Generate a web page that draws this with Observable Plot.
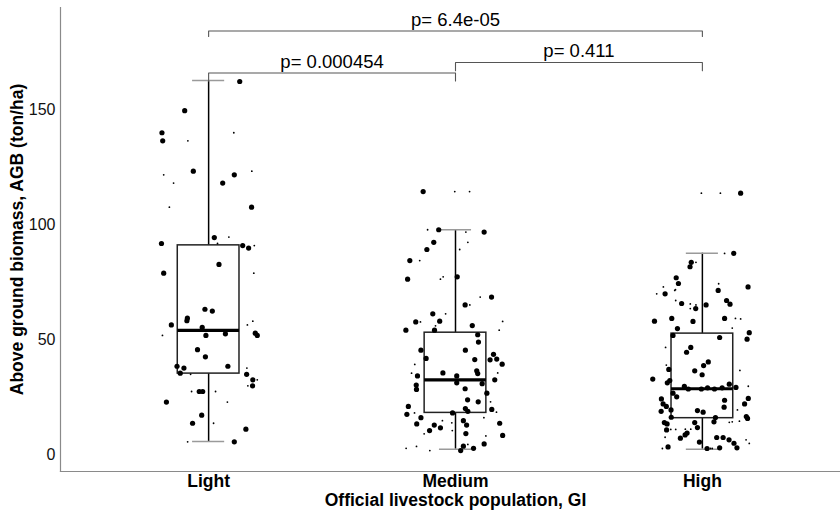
<!DOCTYPE html>
<html>
<head>
<meta charset="utf-8">
<script src="https://cdn.jsdelivr.net/npm/d3@7"></script>
<script src="https://cdn.jsdelivr.net/npm/@observablehq/plot@0.6"></script>
<style>
  html, body { margin: 0; padding: 0; background: #ffffff; }
  #chart { width: 840px; height: 510px; }
</style>
</head>
<body>
<div id="chart"></div>
<script>
// ---- categories & tick labels ----
const categories = ["Light", "Medium", "High"];
const yTicks = [0, 50, 100, 150];
const yTitle = "Above ground biomass, AGB (ton/ha)";
const xTitle = "Official livestock population, GI";

// ---- box statistics ----
const whiskerLow  = [5.6, 2.3, 2.3];
const q1          = [35.2, 18.1, 15.8];
const medians     = [54.0, 32.5, 28.6];
const q3          = [91.0, 53.0, 52.6];
const whiskerHigh = [162.7, 97.8, 87.6];

// ---- jittered observations: [value, jitter (category units)] ----
const lightBig = [
  [162.3,.126],[149.6,-.097],[140.0,-.189],[136.5,-.186],[123.3,-.062],[121.7,.104],[118.1,.057],[107.6,.174],
  [94.4,.023],[91.8,-.191],[90.9,.138],[89.8,.162],[78.9,-.182],[82.7,.042],[63.2,-.015],[62.4,.015],
  [59.3,-.086],[58.2,-.088],[56.4,-.151],[55.3,-.026],[52.8,.189],[51.8,.197],[51.8,-.011],[52.5,.068],
  [45.6,-.045],[42.5,-.013],[38.4,.078],[38.4,-.128],[37.6,-.100],[35.4,-.115],[34.9,.154],[32.5,.179],
  [29.9,.178],[27.4,-.038],[27.4,-.024],[22.8,-.171],[17.1,-.028],[13.6,-.065],[11.0,.151],[5.5,.104]
];
const lightSmall = [
  [140.0,.102],[136.5,-.084],[121.7,-.182],[123.3,.175],[118.1,-.142],[107.6,-.159],[94.6,.082],[91.8,.036],
  [90.9,.185],[78.9,.183],[58.0,.179],[56.4,.157],[51.8,-.187],[37.6,.155],[34.9,-.073],[32.5,.197],
  [29.9,.159],[27.4,-.069],[27.4,.028],[22.8,.076],[13.6,.020],[5.5,-.085]
];
const mediumBig = [
  [114.4,-.131],[97.8,-.068],[96.8,.116],[92.3,-.088],[89.2,-.116],[84.4,-.185],[76.3,-.194],[77.3,.007],
  [68.5,.146],[65.1,.039],[61.2,-.092],[57.7,-.161],[58.0,-.064],[54.1,-.201],[54.1,-.085],[56.1,.068],
  [52.1,.090],[48.9,.093],[45.4,-.140],[45.4,.040],[43.6,.154],[41.5,.167],[41.2,.140],[39.3,.189],
  [41.8,-.119],[41.3,.078],[36.4,.086],[35.2,.090],[35.5,-.051],[34.2,-.154],[34.2,.005],[32.5,.159],
  [30.8,.108],[31.2,.005],[30.2,-.159],[28.3,-.158],[28.6,.039],[26.7,.127],[23.8,.049],[22.9,.092],
  [20.9,-.191],[20.0,.040],[18.8,.050],[19.6,.147],[17.5,-.197],[18.1,-.012],[16.0,-.140],[14.7,.032],
  [12.8,.045],[13.3,-.157],[12.8,-.086],[11.6,-.061],[10.4,-.105],[13.6,.179],[9.1,.042],[8.3,.191],
  [4.6,.116],[2.7,.073],[3.6,.032],[1.7,.021]
];
const mediumSmall = [
  [114.4,-.003],[114.4,.057],[97.8,-.113],[96.8,.042],[92.3,.050],[89.2,.017],[84.4,-.145],[76.3,-.061],
  [77.3,-.050],[68.5,.100],[65.1,.058],[61.2,-.040],[57.7,-.142],[57.9,.191],[56.0,-.081],[54.1,.177],
  [39.2,-.165],[35.4,-.178],[35.5,.171],[22.9,.142],[18.1,-.166],[18.4,.166],[16.0,.115],[14.7,-.053],
  [13.8,-.015],[9.0,-.127],[8.1,.123],[10.4,-.013],[2.7,-.200],[3.5,-.158],[1.7,-.104],[4.4,.050]
];
const highBig = [
  [113.7,.155],[87.5,.127],[83.6,-.045],[81.7,-.050],[76.9,-.106],[74.4,-.097],[72.9,.185],[71.4,.064],
  [69.9,-.151],[67.0,.098],[65.4,.112],[65.7,-.084],[65.1,.015],[63.5,-.027],[59.2,-.124],[59.2,.090],
  [58.0,-.194],[57.9,-.038],[54.8,-.101],[53.0,.190],[50.2,.181],[51.8,-.119],[50.9,.070],[46.6,-.047],
  [44.5,-.064],[40.3,.024],[38.7,.005],[36.4,-.031],[34.7,-.001],[37.0,-.136],[32.8,-.201],[32.2,-.132],
  [31.2,-.142],[29.6,-.073],[30.6,.109],[29.2,.136],[28.5,-.057],[28.5,-.004],[29.0,.021],[29.0,.080],
  [28.5,.049],[26.7,-.119],[25.1,-.104],[23.6,.090],[24.2,-.166],[24.4,.186],[22.0,-.159],[20.9,-.146],
  [22.0,.171],[20.6,.088],[18.8,-.167],[19.4,-.127],[19.1,-.020],[18.4,.003],[16.2,-.126],[16.5,.178],
  [15.7,.183],[16.1,.053],[14.2,.047],[13.9,-.031],[13.9,-.154],[13.3,-.143],[11.7,-.020],[10.7,-.145],
  [9.3,-.062],[8.5,-.070],[7.1,-.089],[7.4,.058],[7.4,.084],[6.4,.108],[4.9,.128],[2.9,.140],
  [5.4,-.012],[2.6,.019],[2.9,.070],[3.3,-.139]
];
const highSmall = [
  [113.7,-.004],[113.7,.073],[87.5,.090],[83.6,-.026],[72.9,-.158],[74.3,.066],[71.4,-.112],[69.9,-.185],
  [67.0,-.108],[65.5,-.049],[65.1,-.026],[63.5,-.049],[59.2,.134],[59.0,.155],[58.6,-.040],[71.7,-.109],
  [55.0,.121],[36.6,.152],[46.6,-.149],[38.9,-.146],[29.7,.186],[19.4,.142],[14.5,.150],[14.0,.109],
  [14.2,.121],[7.5,-.151],[6.4,.177],[4.8,.190],[2.6,-.162],[2.6,.033],[2.6,.040],[10.9,-.128],
  [10.9,-.108],[11.0,-.069],[11.0,-.047]
];

// ---- pairwise comparisons (brackets) ----
const comparisons = [
  {from: 1, to: 2, level: 166.0, tip: 162.5, label: "p= 0.000454"},
  {from: 2, to: 3, level: 170.6, tip: 167.0, label: "p= 0.411"},
  {from: 1, to: 3, level: 184.3, tip: 181.9, label: "p= 6.4e-05"}
];

// ---- build tables ----
const boxes = categories.map((c, i) => ({
  pos: i + 1, lo: whiskerLow[i], q1: q1[i], med: medians[i], q3: q3[i], hi: whiskerHigh[i]
}));
const pts = (arr, cat) => arr.map(([v, j]) => ({x: categories.indexOf(cat) + 1 + j, y: v}));
const bigPts = [...pts(lightBig, "Light"), ...pts(mediumBig, "Medium"), ...pts(highBig, "High")];
const smallPts = [...pts(lightSmall, "Light"), ...pts(mediumSmall, "Medium"), ...pts(highSmall, "High")];
const bracketLines = comparisons.flatMap((c, k) => [
  {k, x: c.from, y: c.tip}, {k, x: c.from, y: c.level}, {k, x: c.to, y: c.level}, {k, x: c.to, y: c.tip}
]);
const bracketLabels = comparisons.map(c => ({x: (c.from + c.to) / 2, y: c.level, label: c.label}));

const boxHalf = 0.125, capHalf = 0.065;
const FONT = "Liberation Sans, Arial, Helvetica, sans-serif";

const chart = Plot.plot({
  width: 840,
  height: 510,
  marginLeft: 60,
  marginRight: -10,
  marginTop: 7,
  marginBottom: 39,
  style: {fontFamily: FONT, background: "#ffffff", color: "#000000"},
  x: {domain: [0.4, 3.6], range: [60, 850]},
  y: {domain: [-7.4, 194.5], range: [471, 7]},
  marks: [
    Plot.frame({anchor: "left", stroke: "#8a8a8a", strokeWidth: 1.2}),
    Plot.frame({anchor: "bottom", stroke: "#8a8a8a", strokeWidth: 1.2}),
    Plot.axisY({ticks: yTicks, tickSize: 0, tickPadding: 5, fontSize: 16, fill: "#111", label: null}),
    Plot.axisX({ticks: [1, 2, 3], tickFormat: d => categories[d - 1], tickSize: 0, tickPadding: 3,
      fontSize: 17.5, fontWeight: "bold", fill: "#000", label: null}),
    Plot.text([yTitle], {frameAnchor: "left", rotate: -90, dx: -43, fontSize: 17.5, fontWeight: "bold",
      textAnchor: "middle", lineAnchor: "middle", fill: "#000"}),
    Plot.text([xTitle], {frameAnchor: "bottom", dy: 29, fontSize: 17.5, fontWeight: "bold",
      textAnchor: "middle", lineAnchor: "middle", fill: "#000"}),
    // whiskers
    Plot.ruleX(boxes, {x: "pos", y1: "lo", y2: "q1", stroke: "#000", strokeWidth: 1.5}),
    Plot.ruleX(boxes, {x: "pos", y1: "q3", y2: "hi", stroke: "#000", strokeWidth: 1.5}),
    Plot.ruleY(boxes, {y: "lo", x1: d => d.pos - capHalf, x2: d => d.pos + capHalf, stroke: "#9a9a9a", strokeWidth: 1.5}),
    Plot.ruleY(boxes, {y: "hi", x1: d => d.pos - capHalf, x2: d => d.pos + capHalf, stroke: "#9a9a9a", strokeWidth: 1.5}),
    // boxes
    Plot.rect(boxes, {x1: d => d.pos - boxHalf, x2: d => d.pos + boxHalf, y1: "q1", y2: "q3",
      fill: "#fff", stroke: "#222", strokeWidth: 1.5}),
    Plot.ruleY(boxes, {y: "med", x1: d => d.pos - boxHalf, x2: d => d.pos + boxHalf, stroke: "#000", strokeWidth: 3.2}),
    // points
    Plot.dot(smallPts, {x: "x", y: "y", r: 0.9, fill: "#000", stroke: "none"}),
    Plot.dot(bigPts, {x: "x", y: "y", r: 2.6, fill: "#000", stroke: "none"}),
    // brackets
    Plot.line(bracketLines, {x: "x", y: "y", z: "k", stroke: "#555", strokeWidth: 1.1, curve: "linear"}),
    Plot.text(bracketLabels, {x: "x", y: "y", text: "label", fontSize: 18.5, fill: "#000",
      textAnchor: "middle", lineAnchor: "bottom", dy: -5})
  ]
});
document.getElementById("chart").appendChild(chart);
</script>
</body>
</html>
